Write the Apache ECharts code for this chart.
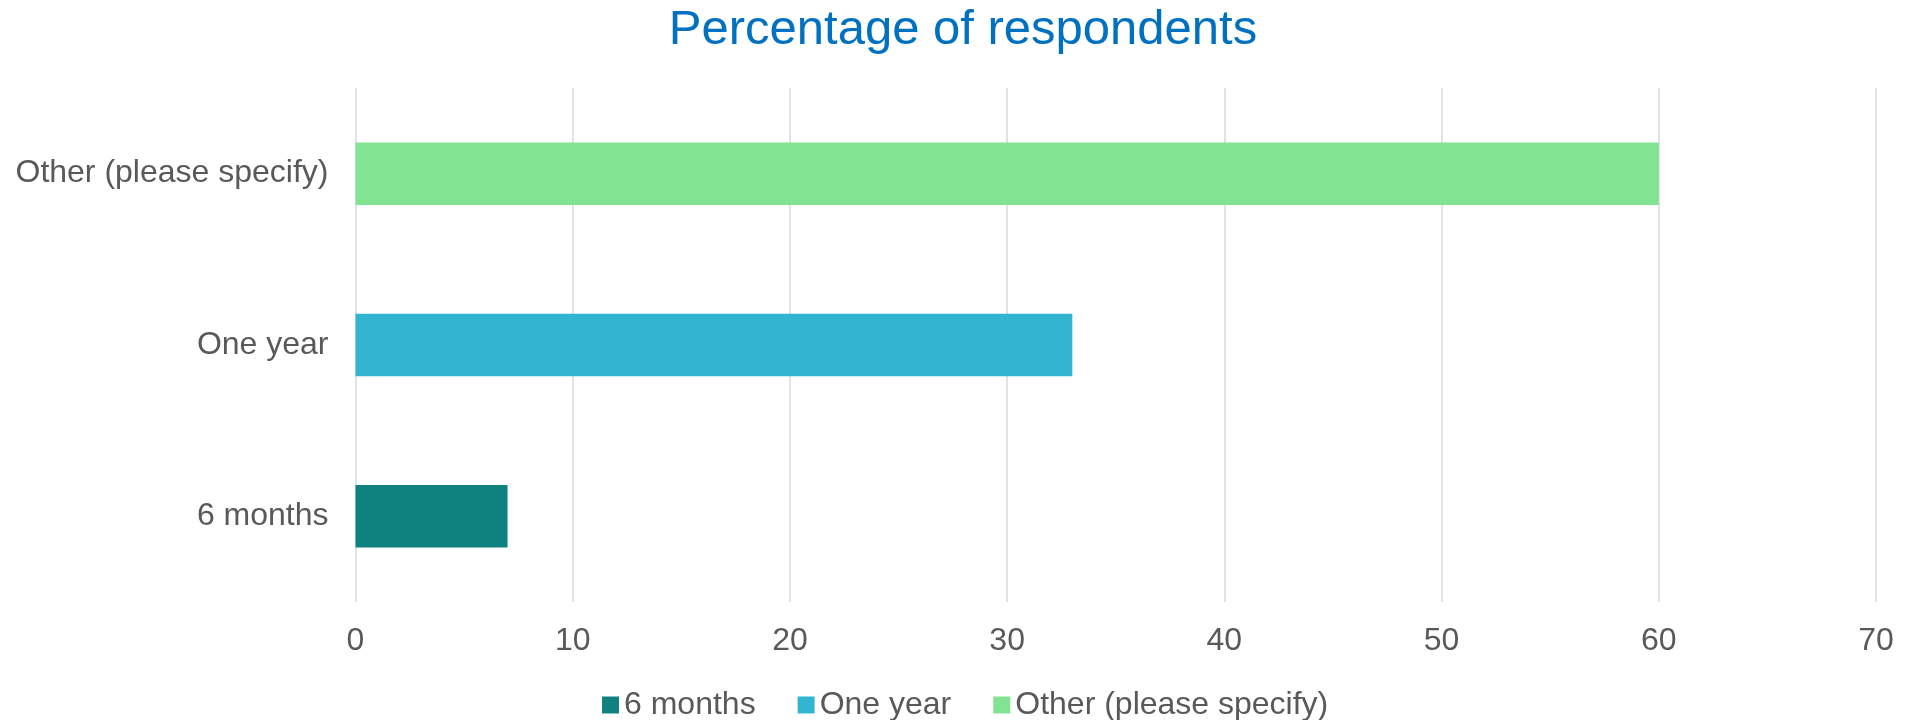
<!DOCTYPE html>
<html>
<head>
<meta charset="utf-8">
<title>Percentage of respondents</title>
<script src="https://cdn.jsdelivr.net/npm/echarts@6/dist/echarts.min.js"></script>
<style>
  html, body { margin: 0; padding: 0; background: #ffffff; }
  #chart { width: 1908px; height: 720px; }
</style>
</head>
<body>
<div id="chart"></div>
<script>
// Response categories, listed bottom to top on the vertical axis
const categories = ['6 months', 'One year', 'Other (please specify)'];
// Percentage of respondents per answer
const sixMonths = [7, null, null];
const oneYear = [null, 33, null];
const otherSpecify = [null, null, 60];
// Value axis range and step
const axisMin = 0;
const axisMax = 70;
const axisStep = 10;

const FONT = '"Liberation Sans", Arial, sans-serif';
const TEXT = '#595959';

const chart = echarts.init(document.getElementById('chart'), null, { renderer: 'canvas' });

function barSeries(name, data, color) {
  return {
    name: name,
    type: 'bar',
    stack: 'all',
    barWidth: '36.5%',
    data: data,
    itemStyle: { color: color },
    emphasis: { disabled: true }
  };
}

chart.setOption({
  animation: false,
  backgroundColor: '#ffffff',
  title: {
    text: 'Percentage of respondents',
    left: 958,
    textAlign: 'center',
    top: 1,
    textStyle: { fontFamily: FONT, fontSize: 49, fontWeight: 'normal', color: '#0070C0' }
  },
  legend: {
    left: 597,
    top: 684,
    itemWidth: 17,
    itemHeight: 17,
    itemGap: 42,
    icon: 'rect',
    textStyle: { fontFamily: FONT, fontSize: 32, color: TEXT },
    data: ['6 months', 'One year', 'Other (please specify)']
  },
  grid: { left: 355.5, right: 32, top: 88, bottom: 118, containLabel: false },
  xAxis: {
    type: 'value',
    min: axisMin,
    max: axisMax,
    interval: axisStep,
    axisLine: { show: false },
    axisTick: { show: false },
    axisLabel: { fontFamily: FONT, fontSize: 32, color: TEXT, margin: 23 },
    splitLine: { show: true, lineStyle: { color: '#d9d9d9', width: 1.5 } }
  },
  yAxis: {
    type: 'category',
    data: categories,
    axisLine: { show: false },
    axisTick: { show: false },
    axisLabel: { fontFamily: FONT, fontSize: 32, color: TEXT, margin: 27 }
  },
  series: [
    barSeries('6 months', sixMonths, '#0F8280'),
    barSeries('One year', oneYear, '#31B5D0'),
    barSeries('Other (please specify)', otherSpecify, '#82E393')
  ]
});
</script>
</body>
</html>
